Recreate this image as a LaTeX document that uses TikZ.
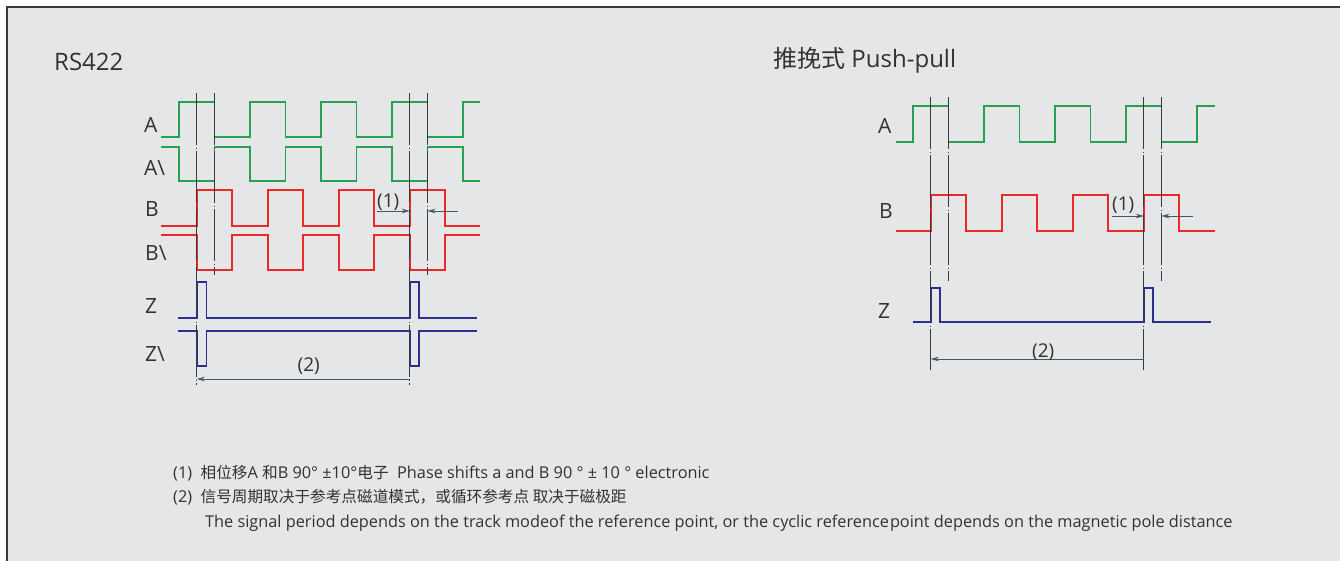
\documentclass[tikz,border=0pt]{standalone}
\usepackage{fontspec}
\setmainfont{Open Sans}
\newfontfamily\cjk{Noto Sans CJK SC}
\newfontfamily\cjknote[Scale=0.96]{Noto Sans CJK SC}
\usepackage{xcolor}
\usepackage{tikz}
\usetikzlibrary{calc, arrows.meta}
\pgfdeclarelayer{background}
\pgfsetlayers{background,main}
\definecolor{panelgray}{RGB}{229,230,232}
\definecolor{framegray}{RGB}{58,58,58}
\definecolor{txtgray}{RGB}{50,50,50}
\definecolor{sigg}{RGB}{40,160,82}
\definecolor{sigr}{RGB}{236,40,40}
\definecolor{sigb}{RGB}{46,46,140}
\definecolor{dimgray}{RGB}{72,86,96}
\tikzstyle{dimarrow} = [line width=0.7pt,dimgray,-{Stealth[length=8pt,width=4.5pt]}]

\begin{document}
\begin{tikzpicture}[
    x=1pt, y=-1pt,
    chanA/.style={line width=1.9pt,sigg},
    chanB/.style={line width=1.9pt,sigr},
    chanZ/.style={line width=1.9pt,sigb},
    phase/.style={line width=0.8pt,framegray,dash pattern=on 52pt off 2.5pt on 1pt off 2.5pt},
    sig/.style={anchor=base west,inner sep=0pt,text=txtgray,font=\fontsize{21}{24}\selectfont},
    title/.style={sig,font=\fontsize{24}{28}\selectfont},
    dimlbl/.style={sig,font=\fontsize{19}{22}\selectfont},
    note/.style={anchor=base west,inner sep=0pt,text=txtgray,font=\fontsize{16.3}{19}\selectfont},
  ]
  \useasboundingbox (0,0) rectangle (1340,560);
  \begin{pgfonlayer}{background}
    \fill[panelgray] (7,7) rectangle (1345,565);
    \draw[framegray,line width=2pt] (7,565) -- (7,7) -- (1345,7);
  \end{pgfonlayer}

  % titles
  \node[title] (rs) at (54,70) {RS422};
  \node[title] (pp) at (773,67.5) {{\cjk 推挽式} Push-pull};

  % RS422
  \node[sig] (lA)  at (144,132) {A};
  \node[sig] (lAn) at (144,175) {A\textbackslash};
  \node[sig] (lB)  at (145,216) {B};
  \node[sig] (lBn) at (145,260) {B\textbackslash};
  \node[sig] (lZ)  at (145,313) {Z};
  \node[sig] (lZn) at (145,361) {Z\textbackslash};

  \draw[chanA] (161,137) -| (179,102) -| (214.5,137) -| (250,102) -| (285.5,137) -| (321,102)
    -| (356.5,137) -| (392,102) -| (427.5,137) -| (463,102) -- (480,102);
  \draw[chanA] (161,147) -| (179,181) -| (214.5,147) -| (250,181) -| (285.5,147) -| (321,181)
    -| (356.5,147) -| (392,181) -| (427.5,147) -| (463,181) -- (480,181);
  \draw[chanB] (161,226) -| (196.75,190) -| (232.25,226) -| (267.75,190) -| (303.25,226)
    -| (338.75,190) -| (374.25,226) -| (409.75,190) -| (445.25,226) -- (480,226);
  \draw[chanB] (161,235) -| (196.75,270) -| (232.25,235) -| (267.75,270) -| (303.25,235)
    -| (338.75,270) -| (374.25,235) -| (409.75,270) -| (445.25,235) -- (480,235);
  \draw[chanZ] (178,318) -| (196.75,282) -| (206.5,318) -| (409.75,282) -| (419,318) -- (477,318);
  \draw[chanZ] (178,331) -| (196.75,366) -| (206.5,331) -| (409.75,366) -| (419,331) -- (477,331);

  \coordinate (lc1) at (196.75,93);
  \coordinate (lc2) at (214.5,93);
  \coordinate (lc3) at (409.75,93);
  \coordinate (lc4) at (427.5,93);
  \draw[phase] (lc1) -- (196.75,385);
  \draw[phase] (lc2) -- (214.5,275);
  \draw[phase] (lc3) -- (409.75,385);
  \draw[phase] (lc4) -- (427.5,275);

  \coordinate (lp1) at (377,211);
  \coordinate (lp2) at (409.75,211);
  \coordinate (lp3) at (458,211);
  \coordinate (lp4) at (427.5,211);
  \draw[dimarrow] (lp1) -- (lp2);
  \draw[dimarrow] (lp3) -- (lp4);
  \node[dimlbl] (ld1) at (377,207) {(1)};

  \coordinate (lz1) at (196.75,379);
  \coordinate (lz2) at (409.75,379);
  \draw[dimarrow,{Stealth[length=8pt,width=4.5pt]}-] (lz1) -- (lz2);
  \node[dimlbl] (ld2) at (297.5,371) {(2)};

  % Push-pull
  \node[sig] (rA) at (878,133) {A};
  \node[sig] (rB) at (879,218) {B};
  \node[sig] (rZ) at (878,318) {Z};

  \draw[chanA] (896,142) -| (913,106) -| (948.5,142) -| (984,106) -| (1019.5,142) -| (1055,106)
    -| (1090.5,142) -| (1126,106) -| (1161.5,142) -| (1197,106) -- (1215,106);
  \draw[chanB] (896,231) -| (930.75,195) -| (966.25,231) -| (1001.75,195) -| (1037.25,231)
    -| (1072.75,195) -| (1108.25,231) -| (1143.75,195) -| (1179.25,231) -- (1215,231);
  \draw[chanZ] (913,322) -| (930.75,288) -| (940,322) -| (1143.75,288) -| (1153,322) -- (1211,322);

  \coordinate (rc1) at (930.75,97);
  \coordinate (rc2) at (948.5,97);
  \coordinate (rc3) at (1143.75,97);
  \coordinate (rc4) at (1161.5,97);
  \draw[phase] (rc1) -- (930.75,370);
  \draw[phase] (rc2) -- (948.5,281);
  \draw[phase] (rc3) -- (1143.75,370);
  \draw[phase] (rc4) -- (1161.5,281);

  \coordinate (rp1) at (1112,216);
  \coordinate (rp2) at (1143.75,216);
  \coordinate (rp3) at (1193,216);
  \coordinate (rp4) at (1161.5,216);
  \draw[dimarrow] (rp1) -- (rp2);
  \draw[dimarrow] (rp3) -- (rp4);
  \node[dimlbl] (rd1) at (1112,210.5) {(1)};

  \coordinate (rz1) at (930.75,359);
  \coordinate (rz2) at (1143.75,359);
  \draw[dimarrow,{Stealth[length=8pt,width=4.5pt]}-] (rz1) -- (rz2);
  \node[dimlbl] (rd2) at (1032,357.5) {(2)};

  % notes
  \node[note] (n1) at (173,478) {(1)\ \ {\cjknote 相位移}A {\cjknote 和}B 90° ±10°{\cjknote 电子}\ \ Phase shifts a and B 90 ° ± 10 ° electronic};
  \node[note] (n2) at (173,502.5) {(2)\ \ {\cjknote 信号周期取决于参考点磁道模式，或循环参考点 取决于磁极距}};
  \node[note] (n3) at (205,527) {The signal period depends on the track modeof the reference point, or the cyclic reference\kern1pt point depends on the magnetic pole distance};
\end{tikzpicture}
\end{document}
